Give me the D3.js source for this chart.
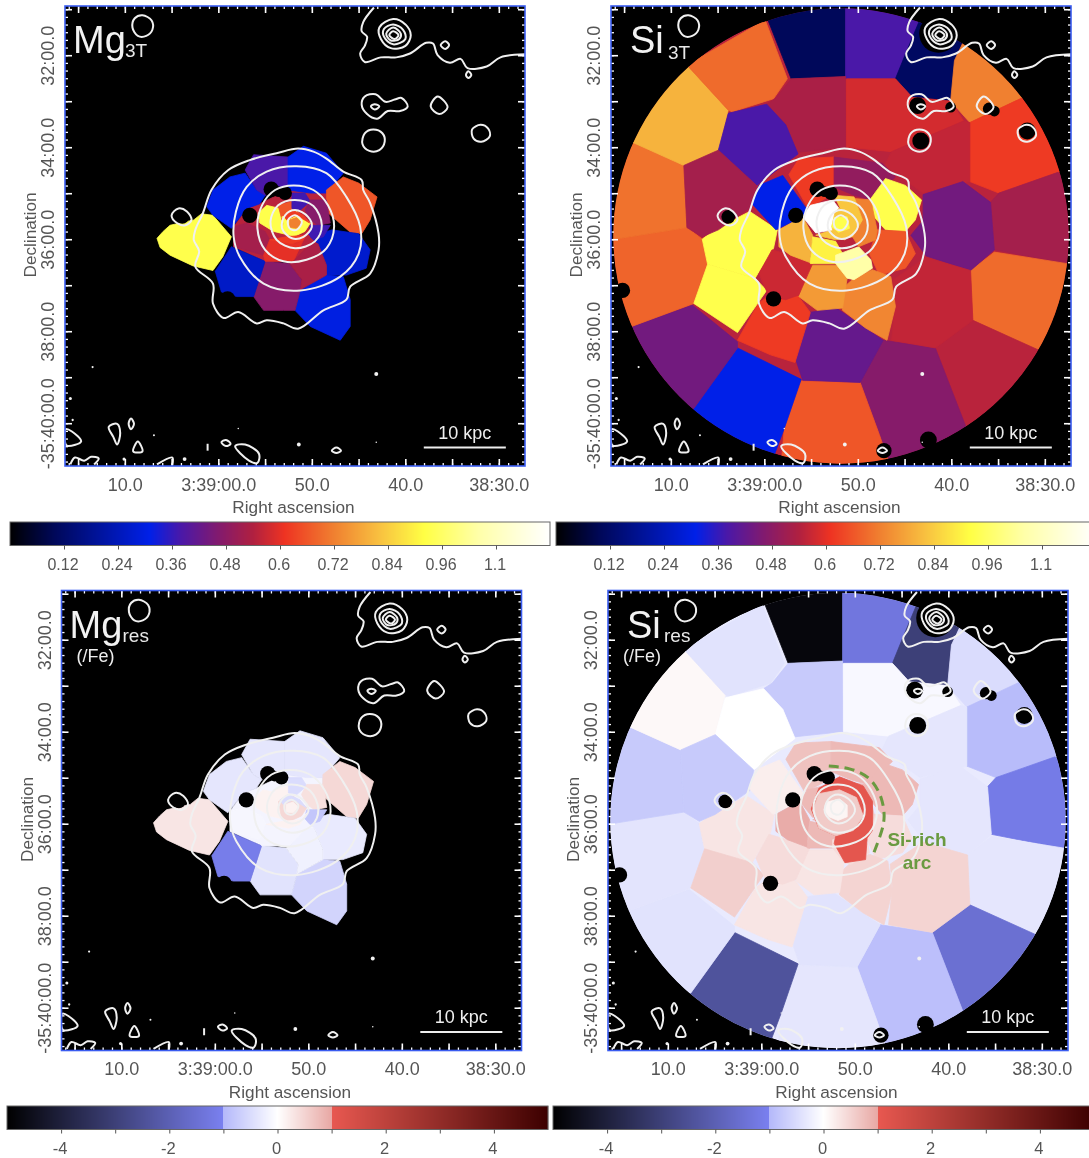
<!DOCTYPE html>
<html><head><meta charset="utf-8">
<style>html,body{margin:0;padding:0;background:#fff;overflow:hidden}svg{display:block}text{font-family:"Liberation Sans",Arial,sans-serif}</style>
<script src="https://cdn.jsdelivr.net/npm/d3@7"></script></head><body>
<script>
// All map shapes are sky offsets in arcsec from the map centre: [west, south]
const raMajor=[75,70,65,60,55,50,45,40,35,30];
const raLabelled=[70,60,50,40,30];
const raLabels=["10.0","3:39:00.0","50.0","40.0","38:30.0"];
const decLabelled=[32,34,36,38,40];
const decLabels=["32:00.0","34:00.0","36:00.0","38:00.0","-35:40:00.0"];
const metalTicks=[0.12,0.24,0.36,0.48,0.6,0.72,0.84,0.96,1.08];
const metalTickLabels=["0.12","0.24","0.36","0.48","0.6","0.72","0.84","0.96","1.1"];
const residualTicks=[-4,-3,-2,-1,0,1,2,3,4];
const residualLabelled=[-4,-2,0,2,4];
const metalStops=[0,.1,.31,.38,.46,.54,.61,.72,.82,.92,1.04,1.2];
const metalColors=['#000000','#00085a','#0020e8','#4a18a8','#801a70','#b02040','#ee3322','#f08030','#f8c040','#ffff44','#ffffa8','#ffffff'];
const residualStops=[-5,-1,-1,0,1,1,5];
const residualColors=['#000000','#7a80f0','#b4b8fa','#ffffff','#e8a8a4','#e85850','#3c0000'];

const siBins=[
[[-97,-330],[6,-330],[6,-208],[-65,-205],[-97,-286]],
[[6,-330],[107,-330],[107,-280],[84,-229],[71,-205],[6,-205]],
[[84,-237],[102,-280],[170,-280],[148,-229],[143,-176],[93,-181],[71,-205]],
[[148,-229],[163,-260],[210,-290],[290,-210],[238,-181],[168,-148],[143,-176]],
[[168,-148],[238,-181],[300,-190],[320,-90],[283,-83],[206,-56],[168,-71]],
[[283,-83],[320,-50],[320,40],[297,37],[200,18],[195,-44],[206,-56]],
[[200,21],[320,40],[320,130],[256,148],[172,110],[169,45]],
[[172,110],[256,148],[300,180],[240,300],[163,249],[123,146]],
[[25,191],[55,136],[123,146],[163,249],[120,320],[71,320],[50,259]],
[[-52,189],[25,191],[50,259],[71,320],[-80,320],[-74,251]],
[[-135,146],[-52,187],[-74,251],[-100,320],[-250,290],[-192,225]],
[[-273,118],[-194,90],[-135,138],[-135,146],[-192,225],[-300,250],[-330,118]],
[[-294,4],[-201,-11],[-181,4],[-174,37],[-192,88],[-273,118],[-330,118],[-330,4]],
[[-276,-124],[-205,-92],[-201,-11],[-294,4],[-330,4],[-330,-124]],
[[-201,-223],[-147,-164],[-160,-112],[-205,-92],[-276,-124],[-330,-200],[-230,-280]],
[[-201,-223],[-99,-282],[-70,-205],[-88,-179],[-142,-162],[-147,-164]],
[[-86,-179],[-65,-205],[6,-208],[7,-116],[-58,-109],[-72,-145],[-97,-172]],
[[-147,-160],[-97,-172],[-72,-145],[-56,-107],[-110,-66],[-160,-112]],
[[7,-205],[71,-205],[93,-181],[143,-176],[160,-150],[66,-110],[7,-116]],
[[66,-110],[160,-150],[168,-148],[168,-71],[107,-56],[57,-92]],
[[107,-54],[159,-71],[195,-44],[200,18],[169,45],[111,26],[91,-1],[107,-20]],
[[111,28],[169,45],[172,110],[123,146],[66,136],[71,86],[68,57]],
[[-60,158],[-43,100],[-6,94],[55,136],[25,191],[-50,188]],
[[-135,136],[-108,88],[-97,80],[-56,78],[-40,100],[-60,165],[-92,155]],
[[-181,4],[-160,-11],[-119,-32],[-83,-8],[-88,16],[-106,45],[-112,55],[-174,37]],
[[-174,37],[-112,55],[-97,71],[-135,126],[-192,88]],
[[-205,-92],[-160,-112],[-110,-66],[-115,-39],[-160,-8],[-181,1],[-201,-11]],
[[-116,-42],[-107,-66],[-76,-79],[-44,-34],[-50,-25],[-85,-8]],
[[-68,-80],[-55,-101],[-9,-103],[-9,-64],[-20,-49],[-37,-40],[-44,-38]],
[[-9,-103],[54,-95],[71,-77],[39,-47],[17,-53],[-9,-64]],
[[58,-75],[84,-66],[105,-47],[97,-21],[84,-6],[58,-8],[37,-32],[39,-49]],
[[47,-8],[84,-6],[97,23],[84,42],[50,51],[37,23]],
[[0,70],[17,55],[41,44],[65,53],[71,92],[60,136],[32,120],[2,97]],
[[-42,38],[-3,38],[8,55],[2,94],[-31,97],[-55,79]],
[[-107,49],[-90,18],[-66,25],[-37,36],[-55,77],[-72,83],[-94,79]],
[[-81,-8],[-50,-25],[-37,-1],[-40,27],[-37,36],[-66,25],[-81,14]],
[[-37,1],[-7,7],[2,23],[-3,36],[-40,36]],
[[-7,25],[23,14],[39,31],[41,42],[17,57],[8,55],[-7,36]],
[[17,-49],[39,-47],[47,-8],[45,5],[23,14],[15,1],[28,-21]],
[[-9,-53],[17,-51],[28,-21],[15,1],[-7,5],[-33,-1],[-11,-8],[-3,-25],[2,-30]],
[[-50,-25],[-40,-40],[-11,-47],[2,-30],[-7,-21],[-11,-8],[-33,-4]],
[[-8,-30],[-3,-36],[15,-30],[20,-10],[5,5],[-8,2],[-12,-12]],
[[-9,-24],[8,-25],[11,-10],[-3,-5],[-12,-12]]
];
const si3T=[.1,.38,.11,.72,.62,.52,.69,.55,.47,.66,.31,.44,.68,.70,.8,.69,.53,.38,.58,.56,.44,.56,.42,.62,.93,.93,.52,.31,.62,.49,.93,.66,.73,.76,.57,.8,.9,1.04,.72,.83,1.2,.83,.93];
const siRes=[-4.8,-1.3,-3,-.5,-.95,-1.15,-.35,-1.5,-.9,-.35,-2.4,-.4,-.38,-.75,.08,-.4,-.75,0,-.1,-.35,-.35,.5,-.4,.3,.3,.55,-.75,.2,.7,.8,.8,.4,.5,.3,.4,.95,.8,.4,.8,.8,.8,.7,.15];
// Si-rich arc and core of the residual map
const siResCoreBins=[
[[-25,-42],[2,-57],[33,-45],[45,-25],[45,13],[38,23],[36,51],[9,55],[-5,30],[-3,20],[-25,10],[-35,-15]],
[[-25,-35],[2,-40],[24,-30],[33,-6],[20,13],[-3,20],[-25,10],[-33,-13]],
[[-15,-24],[2,-28],[12,-20],[12,-5],[0,0],[-12,-5],[-18,-14]]
];
const siResCore=[1.1,.6,.12];

const mgBins=[
[[-46,-42],[-9,-60],[41,-56],[41,-32],[30,10],[-2,33],[-39,33],[-80,14],[-80,-12],[-63,-36]],
[[-180,3],[-172,-6],[-163,-14],[-132,-21],[-122,-29],[-107,-27],[-83,1],[-94,27],[-107,45],[-133,39],[-163,25],[-176,15]],
[[-107,-60],[-85,-77],[-65,-82],[-50,-60],[-39,-53],[-46,-42],[-63,-36],[-83,-10],[-107,-27],[-115,-38]],
[[-65,-86],[-54,-106],[-9,-103],[-9,-60],[-39,-53],[-50,-60]],
[[-9,-103],[11,-117],[41,-108],[63,-82],[41,-56],[20,-56],[-9,-60]],
[[41,-60],[63,-77],[83,-69],[107,-51],[98,-21],[87,-3],[72,-5],[41,-32]],
[[20,1],[48,-8],[83,-3],[98,18],[93,42],[67,51],[41,51],[41,38],[30,10]],
[[0,97],[7,70],[41,51],[63,53],[72,83],[72,118],[59,136],[20,118]],
[[-54,79],[-39,33],[-7,36],[9,57],[7,70],[0,97],[-15,97],[-41,97]],
[[-104,46],[-83,14],[-39,33],[-54,79],[-76,79],[-96,73]],
[[-80,-12],[-63,-17],[-39,-6],[-33,5],[-41,25],[-80,14]],
[[-33,5],[0,10],[11,5],[-2,33],[-39,33],[-41,25]],
[[-2,33],[20,10],[30,10],[41,38],[41,51],[7,70],[9,57],[-7,36]],
[[-37,-40],[-20,-36],[-17,-17],[-7,-1],[-28,-6],[-46,-17],[-48,-30]],
[[-22,-40],[-4,-45],[-4,-34],[-15,-27],[-17,-21]],
[[-4,-56],[13,-56],[20,-45],[7,-34],[-4,-36]],
[[20,-47],[41,-47],[46,-17],[30,-14],[20,-21],[13,-34]],
[[20,-14],[30,-14],[46,-14],[37,1],[24,5],[17,-3]],
[[-17,-25],[2,-32],[20,-17],[13,-6],[-2,1],[-13,-4]],
[[-15,-27],[-4,-34],[11,-27],[19,-17],[2,-27],[-11,-21]],
[[-11,1],[13,-1],[20,-10],[11,5],[-4,10],[-33,5]],
[[-7,-21],[2,-24],[9,-17],[2,-10],[-7,-11]]
];
const mg3T=[.55,.93,.31,.38,.31,.66,.27,.3,.47,.26,.52,.6,.53,.93,.66,.37,.47,.37,.93,.62,.62,.72];
const mgRes=[-.15,.3,-.35,-.35,-.35,.45,-.3,-.6,-.4,-1.1,-.12,-.15,-.2,.15,.15,-.5,.35,-.8,.45,-.5,.15,.15];

const maskedSources=[[127,-264,25],[100,-170,11],[143,-168,7],[193,-166,8],[200,-163,7],[243,-137,11],[104,-124,11],[-147,-25,9],[-59,-27,10],[-31,-61,10],[-22,-58,7],[-13,-56,9],[-285,71,10],[-296,68,7],[-88,82,10],[56,280,10],[114,266,11]];

const closedContours=[
[[4,-114],[24,-110],[41,-101],[63,-84],[87,-73],[89,-60],[98,-43],[109,-3],[109,18],[98,49],[72,66],[67,83],[37,97],[4,121],[-15,114],[-37,110],[-50,114],[-74,99],[-93,107],[-107,88],[-107,62],[-130,40],[-125,20],[-132,5],[-130,-8],[-120,-30],[-109,-60],[-87,-86],[-59,-99],[-24,-108]],
[[2,-91],[41,-82],[67,-51],[85,-12],[83,23],[59,53],[7,71],[-41,62],[-72,27],[-80,1],[-77,-32],[-63,-64],[-37,-84]],
[[-2,-66],[24,-60],[43,-40],[51,-12],[41,16],[15,31],[-15,33],[-39,18],[-49,-10],[-43,-40],[-26,-60]],
[[0,-47],[24,-39],[35,-14],[26,7],[0,16],[-24,5],[-32,-19],[-22,-40]],
[[0,-34],[17,-25],[22,-12],[11,1],[-4,3],[-17,-10],[-13,-27]],
[[0,-27],[9,-19],[2,-8],[-7,-10],[-9,-21]],
[[-161,-27],[-152,-36],[-141,-32],[-135,-21],[-143,-14],[-154,-17]],
[[-199,-288],[-187,-281],[-186,-269],[-194,-261],[-205,-261],[-212,-272],[-209,-284]],
[[226,-215],[230,-210],[226,-206],[223,-210]],
[[196,-254],[201,-249],[196,-244],[190,-249]],
[[128,-283],[144,-276],[151,-262],[144,-248],[125,-245],[112,-257],[110,-272]],
[[128,-276],[141,-269],[144,-257],[128,-250],[116,-260],[116,-270]],
[[128,-272],[138,-264],[136,-257],[125,-255],[119,-264]],
[[128,-267],[135,-262],[130,-257],[123,-262]],
[[105,-185],[118,-175],[130,-178],[139,-180],[147,-169],[137,-163],[121,-163],[107,-153],[94,-159],[87,-171],[91,-182]],
[[104,-172],[110,-169],[104,-165],[99,-169]],
[[186,-182],[199,-168],[188,-159],[177,-169]],
[[102,-139],[114,-134],[117,-123],[110,-112],[97,-111],[88,-120],[91,-134]],
[[242,-145],[252,-140],[254,-130],[243,-123],[233,-127],[231,-139]],
[[-299,252],[-291,255],[-279,268],[-296,274],[-299,272]],
[[-243,249],[-232,245],[-228,257],[-232,272],[-237,262]],
[[-214,238],[-210,245],[-214,252],[-217,245]],
[[-205,268],[-199,281],[-211,281]],
[[-96,269],[-90,266],[-84,271],[-90,274]],
[[-78,274],[-65,272],[-47,284],[-49,296],[-60,293]],
[[48,280],[54,276],[60,280],[54,283]]
];
const openContours=[
[[103,-298],[89,-279],[87,-267],[94,-260],[91,-248],[85,-238],[91,-227],[112,-233],[132,-233],[150,-238],[171,-252],[180,-251],[186,-236],[202,-226],[216,-231],[225,-219],[250,-221],[268,-233],[300,-237]],
[[-293,298],[-287,289],[-275,293],[-266,288],[-256,290],[-262,298]],
[[-180,298],[-160,289],[-160,299]],
[[-114,271],[-114,280]]
];
const contourDots=[[106,180,2.6],[-264,171,1.4],[-293,212,2],[-290,240,1.5],[-184,260,1.3],[-74,251,1],[106,269,1],[5,272,2.5],[-223,291,2],[-144,291,2.5]];
const arcPath=[[-12,-71],[15,-69],[43,-57],[58,-30],[62,-1],[54,23],[45,47]];
const scaleBarEnds=[168,275];
const scaleBarOffset=276;
const mapRadius=297;

const W=1089,H=1158,S=460;
const svg=d3.select("body").append("svg").attr("width",W).attr("height",H).attr("viewBox",[0,0,W,H]);
const defs=svg.append("defs");
defs.append("filter").attr("id","soft").attr("x",0).attr("y",0).attr("width",1).attr("height",1).attr("filterUnits","objectBoundingBox")
  .attr("color-interpolation-filters","sRGB")
  .append("feGaussianBlur").attr("stdDeviation",0.65);
const root=svg.append("g").attr("filter","url(#soft)");
root.append("rect").attr("width",W).attr("height",H).attr("fill","#fff");

const metalColor=d3.scaleLinear().domain(metalStops).range(metalColors);
const residualColor=d3.scaleLinear().domain(residualStops).range(residualColors);
const pos=d3.scaleLinear().domain([-300,300]).range([0,S]);
const ra=d3.scaleLinear().domain([76.4,27.2]).range([0,S]);
const dec=d3.scaleLinear().domain([30.93,40.93]).range([0,S]);
const len=v=>pos(v)-pos(0);
const closedLine=d3.line().x(d=>pos(d[0])).y(d=>pos(d[1])).curve(d3.curveLinearClosed);
const smoothClosed=d3.line().x(d=>pos(d[0])).y(d=>pos(d[1])).curve(d3.curveCatmullRomClosed.alpha(0.5));
const openLine=d3.line().x(d=>pos(d[0])).y(d=>pos(d[1])).curve(d3.curveCatmullRom.alpha(0.5));
const TXT="#555";

function frameTicks(g,axis,scale,vals,size,tf){
  const a=g.append("g").attr("transform",tf).call(axis(scale).tickValues(vals).tickSize(size).tickFormat(""));
  a.select(".domain").remove();
  a.selectAll("line").attr("stroke","#fff").attr("stroke-width",size>4?1.6:1.3);
}

function panel(id,px,py,cfg){
  const g=root.append("g").attr("transform",`translate(${px},${py})`);
  defs.append("clipPath").attr("id","frame"+id).append("rect").attr("width",S).attr("height",S);
  defs.append("clipPath").attr("id","disc"+id).append("circle").attr("cx",pos(0)).attr("cy",pos(0)).attr("r",len(mapRadius));
  g.append("rect").attr("width",S).attr("height",S).attr("fill","#000");
  const inner=g.append("g").attr("clip-path",`url(#frame${id})`);
  const map=inner.append("g").attr("clip-path",`url(#disc${id})`);
  if(cfg.disc) map.append("circle").attr("cx",pos(0)).attr("cy",pos(0)).attr("r",len(mapRadius)).attr("fill",cfg.color(cfg.disc));
  map.selectAll("path").data(cfg.bins).join("path")
    .attr("d",closedLine).attr("fill",(d,i)=>cfg.color(cfg.values[i]))
    .attr("stroke",(d,i)=>cfg.color(cfg.values[i])).attr("stroke-width",0.8).attr("stroke-linejoin","round");
  inner.append("g").selectAll("circle").data(maskedSources).join("circle")
    .attr("cx",d=>pos(d[0])).attr("cy",d=>pos(d[1])).attr("r",d=>len(d[2])).attr("fill","#000");
  const c=inner.append("g").attr("fill","none").attr("stroke","#f0f0f0").attr("stroke-width",2).attr("stroke-linejoin","round");
  c.selectAll("path.c").data(closedContours).join("path").attr("class","c").attr("d",smoothClosed);
  c.selectAll("path.o").data(openContours).join("path").attr("class","o").attr("d",openLine);
  inner.append("g").selectAll("circle").data(contourDots).join("circle")
    .attr("cx",d=>pos(d[0])).attr("cy",d=>pos(d[1])).attr("r",d=>len(d[2])).attr("fill","#f2f2f2");

  const raMinor=d3.range(28,77), decMajor=d3.range(31,41), decMinor=d3.range(31,40.95,1/6);
  frameTicks(g,d3.axisTop,ra,raMinor,3,`translate(0,${S})`);
  frameTicks(g,d3.axisTop,ra,raMajor,7,`translate(0,${S})`);
  frameTicks(g,d3.axisBottom,ra,raMinor,3,"translate(0,0)");
  frameTicks(g,d3.axisBottom,ra,raMajor,7,"translate(0,0)");
  frameTicks(g,d3.axisLeft,dec,decMinor,3,`translate(${S},0)`);
  frameTicks(g,d3.axisLeft,dec,decMajor,7,`translate(${S},0)`);
  frameTicks(g,d3.axisRight,dec,decMinor,3,"translate(0,0)");
  frameTicks(g,d3.axisRight,dec,decMajor,7,"translate(0,0)");
  g.append("rect").attr("width",S).attr("height",S).attr("fill","none").attr("stroke","#3a5cf0").attr("stroke-width",1.6);

  const xa=g.append("g").attr("transform",`translate(0,${S})`)
    .call(d3.axisBottom(ra).tickValues(raLabelled).tickSize(0).tickPadding(12).tickFormat((d,i)=>raLabels[i]));
  xa.select(".domain").remove();
  xa.selectAll("text").attr("font-size",18).attr("fill",TXT).style("font-family",'"Liberation Sans"');
  const ya=g.append("g").call(d3.axisLeft(dec).tickValues(decLabelled).tickSize(0).tickFormat((d,i)=>decLabels[i]));
  ya.select(".domain").remove();
  ya.selectAll("text").attr("font-size",18).attr("fill",TXT).style("font-family",'"Liberation Sans"')
    .attr("x",0).attr("dy",0).attr("text-anchor","middle").attr("dominant-baseline","central")
    .attr("transform","translate(-17,0) rotate(-90)");
  g.append("text").attr("x",S/2-1.5).attr("y",S+47).attr("text-anchor","middle").attr("font-size",17.2).attr("fill",TXT).text("Right ascension");
  g.append("text").attr("transform",`translate(-29,${S/2-1}) rotate(-90)`).attr("text-anchor","middle").attr("font-size",17.2).attr("fill",TXT).text("Declination");

  g.append("line").attr("x1",pos(scaleBarEnds[0])).attr("x2",pos(scaleBarEnds[1])).attr("y1",pos(scaleBarOffset)).attr("y2",pos(scaleBarOffset)).attr("stroke","#eee").attr("stroke-width",2);
  g.append("text").attr("x",pos((scaleBarEnds[0]+scaleBarEnds[1])/2)).attr("y",pos(scaleBarOffset)-9).attr("text-anchor","middle").attr("font-size",18).attr("fill","#eee").text("10 kpc");

  g.append("text").attr("x",cfg.tx).attr("y",47).attr("font-size",38).attr("fill","#f2f2f2").text(cfg.title);
  g.append("text").attr("x",cfg.sx).attr("y",cfg.sy).attr("font-size",19).attr("fill","#e8e8e8").text(cfg.sub);
  if(cfg.ratio) g.append("text").attr("x",15).attr("y",71).attr("font-size",18).attr("fill","#eee").text("(/Fe)");
  return g;
}

panel(1,65,6,{bins:mgBins,values:mg3T,color:metalColor,title:"Mg",sub:"3T",tx:8,sx:60,sy:51});
panel(2,611,6,{bins:siBins,values:si3T,color:metalColor,disc:.55,title:"Si",sub:"3T",tx:19,sx:57,sy:53});
panel(3,61.5,590.5,{bins:mgBins,values:mgRes,color:residualColor,title:"Mg",sub:"res",tx:8,sx:61,sy:51.5,ratio:true});
const p4=panel(4,608,590.5,{bins:siBins.concat(siResCoreBins),values:siRes.concat(siResCore),color:residualColor,disc:-.3,title:"Si",sub:"res",tx:19,sx:56,sy:51,ratio:true});
p4.append("path").datum(arcPath).attr("d",d3.line().x(d=>pos(d[0])).y(d=>pos(d[1])).curve(d3.curveBasis))
  .attr("fill","none").attr("stroke","#6a9a40").attr("stroke-width",3).attr("stroke-dasharray","10 6");
p4.append("g").attr("font-size",19).attr("font-weight","bold").attr("fill","#6a9a40").attr("text-anchor","middle")
  .selectAll("text").data([["Si-rich",26],["arc",56]]).join("text")
  .attr("x",pos(103)).attr("y",d=>pos(d[1])+6).text(d=>d[0]);

function colorbar(x0,x1,y,domain,color,ticks,label,pad,fs,shift){
  const g=root.append("g");
  const s=d3.scaleLinear().domain(domain).range([x0,x1]);
  g.append("g").selectAll("rect").data(d3.range(x0,x1,1)).join("rect")
    .attr("x",d=>d).attr("y",y).attr("width",1.2).attr("height",23.5).attr("fill",d=>color(s.invert(d+0.5)));
  g.append("rect").attr("x",x0).attr("y",y).attr("width",x1-x0).attr("height",23.5).attr("fill","none").attr("stroke","#666").attr("stroke-width",1);
  const a=g.append("g").attr("transform",`translate(0,${y+23.5})`)
    .call(d3.axisBottom(s).tickValues(ticks).tickSize(4).tickPadding(pad).tickFormat(label));
  a.select(".domain").remove();
  a.selectAll("line").attr("stroke","#555");
  a.selectAll("text").attr("font-size",fs).attr("fill",TXT).attr("dx",shift).style("font-family",'"Liberation Sans"');
}
const mLabel=(d,i)=>metalTickLabels[i];
const rLabel=d=>residualLabelled.includes(d)?String(d):"";
colorbar(10,550,522,[0,1.2],metalColor,metalTicks,mLabel,9,16,-1.5);
colorbar(556,1096,522,[0,1.2],metalColor,metalTicks,mLabel,9,16,-1.5);
colorbar(7,548,1106,[-5,5],residualColor,residualTicks,rLabel,9,16.5,-1.5);
colorbar(553,1094,1106,[-5,5],residualColor,residualTicks,rLabel,9,16.5,-1.5);
</script></body></html>
